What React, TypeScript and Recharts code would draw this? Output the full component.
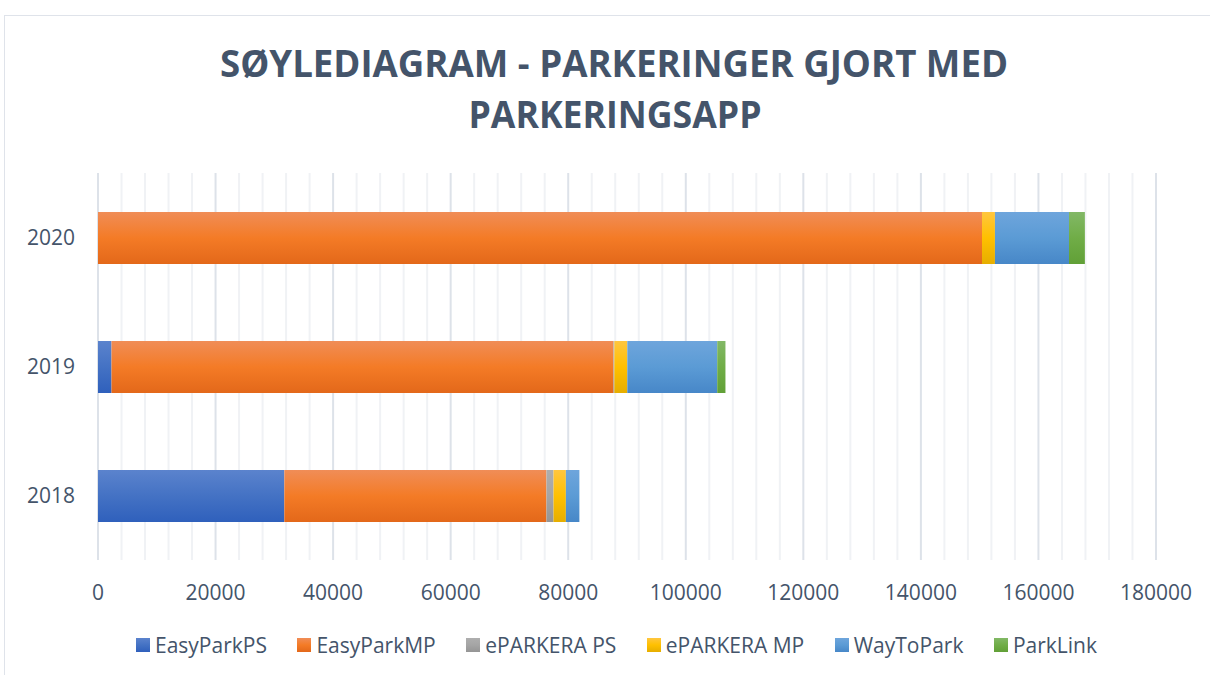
import { BarChart, Bar, XAxis, YAxis, CartesianGrid } from 'recharts';

// Parkeringer per år og app (lest av diagrammet)
const years = ['2018', '2019', '2020'];
const easyParkPS = [31700, 2300, 0];
const easyParkMP = [44600, 85400, 150400];
const eParkeraPS = [1200, 150, 0];
const eParkeraMP = [2100, 2200, 2200];
const wayToPark = [2300, 15300, 12600];
const parkLink = [0, 1400, 2700];

const xMax = 180000;
const majorTicks = [0, 20000, 40000, 60000, 80000, 100000, 120000, 140000, 160000, 180000];
const minorTicks = [
  4000, 8000, 12000, 16000, 24000, 28000, 32000, 36000, 44000, 48000, 52000, 56000,
  64000, 68000, 72000, 76000, 84000, 88000, 92000, 96000, 104000, 108000, 112000, 116000,
  124000, 128000, 132000, 136000, 144000, 148000, 152000, 156000, 164000, 168000, 172000, 176000,
];

const series = [
  { key: 'easyParkPS', name: 'EasyParkPS', top: '#5B83CD', mid: '#4472C4', bot: '#2F60BC' },
  { key: 'easyParkMP', name: 'EasyParkMP', top: '#F08D57', mid: '#F47B26', bot: '#E3681A' },
  { key: 'eParkeraPS', name: 'ePARKERA PS', top: '#AEAEAE', mid: '#A5A5A5', bot: '#959595' },
  { key: 'eParkeraMP', name: 'ePARKERA MP', top: '#FFC63F', mid: '#FFC000', bot: '#E6AE00' },
  { key: 'wayToPark', name: 'WayToPark', top: '#6EA5DC', mid: '#5B9BD5', bot: '#4787C8' },
  { key: 'parkLink', name: 'ParkLink', top: '#82B866', mid: '#70AD47', bot: '#61A037' },
];

const data = years.map((year, i) => ({
  year,
  easyParkPS: easyParkPS[i],
  easyParkMP: easyParkMP[i],
  eParkeraPS: eParkeraPS[i],
  eParkeraMP: eParkeraMP[i],
  wayToPark: wayToPark[i],
  parkLink: parkLink[i],
}));

const FONT = '"Open Sans", "DejaVu Sans", sans-serif';
const TEXT = '#44546A';

// minor gridlines placed through the x axis scale
const minorGrid = ({ xAxis, offset }: any) => {
  const sc = xAxis && xAxis.scale;
  if (typeof sc === 'function') return minorTicks.map((t) => sc(t));
  if (sc && typeof sc.map === 'function') return minorTicks.map((t) => sc.map(t));
  return minorTicks.map((t) => offset.left + (t / xMax) * offset.width);
};

export default function App() {
  return (
    <div
      style={{
        position: 'fixed', left: 0, top: 0, width: 1210, height: 675,
        overflow: 'hidden', background: '#fff', fontFamily: FONT,
      }}
    >
      {/* chart frame */}
      <div
        style={{
          position: 'absolute', left: 4, top: 15, width: 1240, height: 700,
          border: '1px solid #DFE3EA', boxSizing: 'border-box',
        }}
      />

      <svg width={1210} height={140} style={{ position: 'absolute', left: 0, top: 0 }}>
        <text
          x={614} y={77} textAnchor="middle" fontFamily={FONT} fontWeight={700}
          fontSize={38} fill={TEXT} textLength={788} lengthAdjust="spacingAndGlyphs"
        >
          SØYLEDIAGRAM - PARKERINGER GJORT MED
        </text>
        <text
          x={615} y={128} textAnchor="middle" fontFamily={FONT} fontWeight={700}
          fontSize={38} fill={TEXT} textLength={293} lengthAdjust="spacingAndGlyphs"
        >
          PARKERINGSAPP
        </text>
      </svg>

      <div style={{ position: 'absolute', left: 0, top: 0 }}>
        <BarChart
          width={1210}
          height={675}
          data={data}
          layout="vertical"
          margin={{ top: 173, right: 54, bottom: 85, left: 0 }}
        >
          <defs>
            {series.map((s) => (
              <linearGradient key={s.key} id={`g-${s.key}`} x1="0" y1="0" x2="0" y2="1">
                <stop offset="0%" stopColor={s.top} />
                <stop offset="50%" stopColor={s.mid} />
                <stop offset="100%" stopColor={s.bot} />
              </linearGradient>
            ))}
          </defs>
          <CartesianGrid
            horizontal={false}
            vertical
            verticalCoordinatesGenerator={minorGrid}
            stroke="#F0F2F5"
            strokeWidth={2}
          />
          <CartesianGrid horizontal={false} vertical stroke="#DDE2E9" strokeWidth={2} />
          <XAxis
            type="number"
            domain={[0, xMax]}
            ticks={majorTicks}
            axisLine={false}
            tickLine={false}
            tickMargin={19}
            height={30}
            tick={{ fill: TEXT, fontSize: 21, fontFamily: FONT }}
          />
          <YAxis
            type="category"
            dataKey="year"
            reversed
            width={98}
            axisLine={false}
            tickLine={false}
            tickMargin={17}
            tick={{ fill: TEXT, fontSize: 21, fontFamily: FONT }}
          />
          {series.map((s) => (
            <Bar
              key={s.key}
              dataKey={s.key}
              name={s.name}
              stackId="a"
              barSize={52}
              fill={`url(#g-${s.key})`}
              isAnimationActive={false}
            />
          ))}
        </BarChart>
      </div>

      {/* legend */}
      <div
        style={{
          position: 'absolute', left: 136, top: 631, display: 'flex', gap: 30.5,
          alignItems: 'center', whiteSpace: 'nowrap',
        }}
      >
        {series.map((s) => (
          <div key={s.key} style={{ display: 'flex', alignItems: 'center' }}>
            <span
              style={{
                display: 'inline-block', width: 14, height: 14, marginRight: 5,
                background: `linear-gradient(${s.top}, ${s.mid}, ${s.bot})`,
              }}
            />
            <span style={{ fontSize: 21, color: TEXT, lineHeight: '28px' }}>{s.name}</span>
          </div>
        ))}
      </div>
    </div>
  );
}
